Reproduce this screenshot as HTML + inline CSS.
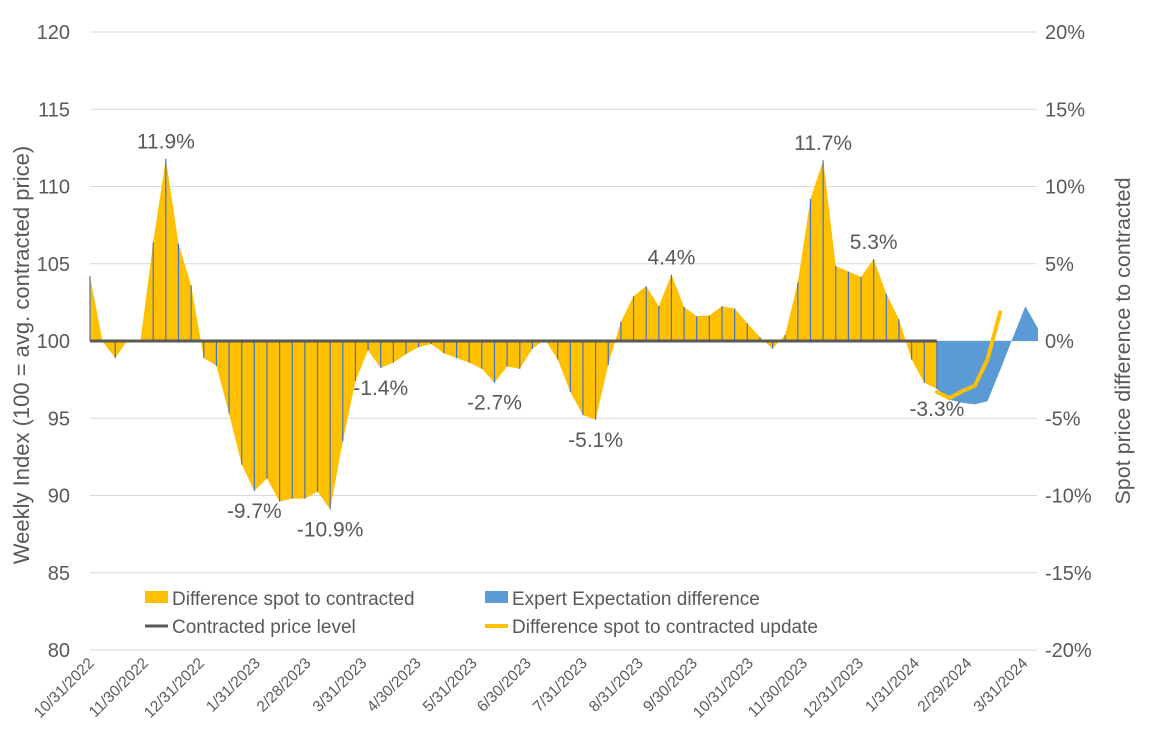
<!DOCTYPE html>
<html><head><meta charset="utf-8">
<style>
body{margin:0;background:#fff;font-family:"Liberation Sans",Arial,sans-serif;}
svg text{font-family:"Liberation Sans",Arial,sans-serif;fill:#595959;}
</style></head>
<body>
<svg id="chart" width="1149" height="741" viewBox="0 0 1149 741" xmlns="http://www.w3.org/2000/svg"></svg>
<script>
const spotIndex=[104.2,99.95,98.9,100.1,100.05,106.4,111.8,106.3,103.6,98.9,98.4,95.3,92.0,90.3,91.1,89.6,89.8,89.8,90.25,89.1,93.5,97.4,99.4,98.25,98.6,99.15,99.6,99.8,99.2,98.9,98.6,98.2,97.3,98.35,98.2,99.5,100.1,98.8,96.7,95.2,94.9,98.45,101.25,102.9,103.55,102.25,104.3,102.2,101.6,101.65,102.25,102.1,101.15,100.25,99.5,100.4,103.8,109.2,111.7,104.85,104.5,104.15,105.3,103.05,101.4,98.8,97.3,96.9];
const expertIndex=[96.9,96.2,96.0,95.9,96.1,98.1,100.2,102.25,100.8];
const expertStart=67;
const updateIndex=[96.7,96.3,96.75,97.1,98.8,101.85];
const updateStart=67;
const leftTicks=[80,85,90,95,100,105,110,115,120];
const rightTicks=["-20%","-15%","-10%","-5%","0%","5%","10%","15%","20%"];
const monthLabels=["10/31/2022","11/30/2022","12/31/2022","1/31/2023","2/28/2023","3/31/2023","4/30/2023","5/31/2023","6/30/2023","7/31/2023","8/31/2023","9/30/2023","10/31/2023","11/30/2023","12/31/2023","1/31/2024","2/29/2024","3/31/2024"];
const dataLabels=[["11.9%",6,"above"],["-9.7%",13,"below"],["-10.9%",19,"below"],["-1.4%",23,"below"],["-2.7%",32,"below"],["-5.1%",40,"below"],["4.4%",46,"above"],["11.7%",58,"above"],["5.3%",62,"above"],["-3.3%",67,"below"]];

const NS="http://www.w3.org/2000/svg";
const svg=document.getElementById('chart');
const X0=90,X1=1037,WEEK=12.64;
const y=v=>341-(v-100)*15.45;
const xi=i=>X0+i*WEEK;
const base=new Date(2022,9,31);
const xd=s=>{const [m,d,yy]=s.split('/').map(Number);const dt=new Date(yy,m-1,d);return X0+(dt-base)/86400000/7*WEEK;};
function mk(tag,attrs,parent){const e=document.createElementNS(NS,tag);for(const k in attrs)e.setAttribute(k,attrs[k]);(parent||svg).appendChild(e);return e;}

leftTicks.forEach((t,k)=>{
  const g=mk('line',{x1:X0,x2:X1,y1:y(t),y2:y(t),stroke:'#d9d9d9','stroke-width':1});
  
  
  const tl=mk('text',{x:70,y:y(t)+7,'text-anchor':'end','font-size':20});
  tl.textContent=t;
  
  
  const tr=mk('text',{x:1045,y:y(t)+7,'text-anchor':'start','font-size':20});
  tr.textContent=rightTicks[k];
  
  
});

let d=`M${xi(0)},${y(100)}`;
spotIndex.forEach((v,i)=>{d+=` L${xi(i)},${y(v)}`;});
d+=` L${xi(spotIndex.length-1)},${y(100)} Z`;
const ya=mk('path',{d:d,fill:'#ffc000'});



let d2=`M${xi(expertStart)},${y(100)}`;
expertIndex.forEach((v,i)=>{d2+=` L${xi(expertStart+i)},${y(v)}`;});
d2+=` L${xi(expertStart+expertIndex.length-1)},${y(100)} Z`;
const ba=mk('path',{d:d2,fill:'#5b9bd5'});



spotIndex.forEach((v,i)=>{
  const l=mk('line',{x1:xi(i),x2:xi(i),y1:y(v),y2:y(100),stroke:'#4472c4','stroke-width':1.2});
  
  
});

const cl=mk('line',{x1:xi(0),x2:xi(spotIndex.length-1),y1:y(100),y2:y(100),stroke:'#595959','stroke-width':3});



const up=mk('polyline',{points:updateIndex.map((v,i)=>`${xi(updateStart+i)},${y(v)}`).join(' '),fill:'none',stroke:'#ffc000','stroke-width':4,'stroke-linecap':'round','stroke-linejoin':'round'});



dataLabels.forEach(([t,i,pos])=>{
  const v=spotIndex[i];
  const ty=pos==='above'?y(v)-10:y(v)+27;
  const e=mk('text',{x:xi(i),y:ty,'text-anchor':'middle','font-size':21,fill:'#404040'});
  e.textContent=t;
  
  
});

monthLabels.forEach(s=>{
  const x=xd(s);
  const e=mk('text',{x:x+5,y:664,'text-anchor':'end','font-size':15.5,transform:`rotate(-45 ${x+5} 664)`});
  e.textContent=s;
  
  
});

const lt=mk('text',{x:0,y:0,'text-anchor':'middle','font-size':22,transform:'translate(29 355) rotate(-90)'});
lt.textContent='Weekly Index (100 = avg. contracted price)';


const rt=mk('text',{x:0,y:0,'text-anchor':'middle','font-size':21.5,transform:'translate(1130 341) rotate(-90)'});
rt.textContent='Spot price difference to contracted';



const lg=mk('g',{});


mk('rect',{x:140,y:584,width:720,height:54,fill:'#fff'},lg);
const items=[[145,598,'rect','#ffc000','Difference spot to contracted'],[485,598,'rect','#5b9bd5','Expert Expectation difference'],[145,626,'line','#595959','Contracted price level'],[485,626,'line','#ffc000','Difference spot to contracted update']];
items.forEach(([x,yy,kind,c,t])=>{
  const g=mk('g',{},lg);
  
  
  if(kind==='rect')mk('rect',{x:x,y:yy-7,width:23,height:12,fill:c},g);
  else mk('line',{x1:x,x2:x+23,y1:yy,y2:yy,stroke:c,'stroke-width':c==='#595959'?3:4},g);
  const tx=mk('text',{x:x+27,y:yy+7,'font-size':19},g);
  tx.textContent=t;
});
</script>
</body></html>
